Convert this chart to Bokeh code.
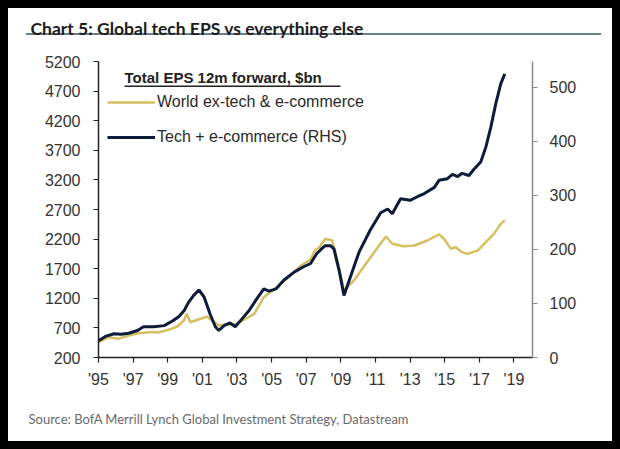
from bokeh.plotting import figure
from bokeh.models import (Range1d, LinearAxis, FixedTicker, Legend, LegendItem,
                          Label, BoxAnnotation, Title)
from bokeh.embed import file_html
from bokeh.resources import INLINE

# ---- data ----
tech_years = [1995.0, 1995.4, 1995.9, 1996.3, 1996.75, 1997.25, 1997.6, 1998.2, 1998.8,
              1999.25, 1999.65, 1999.95, 2000.2, 2000.5, 2000.8, 2001.1, 2001.45, 2001.75,
              2001.95, 2002.25, 2002.6, 2002.9, 2003.3, 2003.7, 2004.15, 2004.55, 2004.85,
              2005.25, 2005.7, 2006.3, 2006.85, 2007.25, 2007.6, 2007.85, 2008.1, 2008.4,
              2008.6, 2008.9, 2009.18, 2009.55, 2010.05, 2010.7, 2011.3, 2011.7, 2011.97,
              2012.45, 2013.0, 2013.5, 2013.8, 2014.4, 2014.67, 2015.15, 2015.45, 2015.75,
              2016.0, 2016.4, 2016.7, 2017.08, 2017.37, 2017.66, 2017.95, 2018.24, 2018.47]
tech_eps = [31, 39, 44, 43, 45, 50, 57, 57, 59,
            67, 76, 87, 102, 115, 125, 112, 80, 57,
            50, 59, 64, 57, 72, 87, 109, 127, 123,
            127, 143, 158, 168, 174, 192, 200, 207, 207,
            201, 161, 115, 149, 195, 236, 268, 275, 266,
            294, 291, 299, 303, 315, 328, 331, 339, 335,
            341, 337, 349, 362, 389, 426, 470, 507, 525]

world_years = [1995.0, 1995.6, 1996.15, 1996.75, 1997.3, 1997.9, 1998.5, 1999.05, 1999.55,
               1999.93, 2000.1, 2000.3, 2000.6, 2000.9, 2001.25, 2001.6, 2001.95, 2002.45,
               2003.0, 2003.5, 2004.0, 2004.55, 2005.3, 2006.3, 2006.7, 2007.25, 2007.5,
               2007.75, 2008.1, 2008.5, 2008.8, 2009.18, 2009.75, 2010.45, 2011.0, 2011.6,
               2011.97, 2012.6, 2013.25, 2014.0, 2014.67, 2014.96, 2015.35, 2015.64, 2016.0,
               2016.3, 2016.9, 2017.37, 2017.85, 2018.24, 2018.47]
world_eps = [458, 543, 516, 572, 611, 628, 628, 668, 724,
             825, 938, 796, 825, 854, 890, 820, 740, 757,
             769, 854, 938, 1219, 1388, 1641, 1754, 1860, 2007,
             2063, 2205, 2176, 1838, 1332, 1500, 1783, 2007, 2244,
             2121, 2080, 2092, 2176, 2280, 2205, 2036, 2063, 1979,
             1951, 2007, 2148, 2290, 2458, 2520]

left_ticks = [200, 700, 1200, 1700, 2200, 2700, 3200, 3700, 4200, 4700, 5200]
right_ticks = [0, 100, 200, 300, 400, 500]
x_ticks = [1995, 1997, 1999, 2001, 2003, 2005, 2007, 2009, 2011, 2013, 2015, 2017, 2019]
x_labels = ["'95", "'97", "'99", "'01", "'03", "'05", "'07", "'09", "'11", "'13", "'15", "'17", "'19"]

title_text = "Chart 5: Global tech EPS vs everything else"
legend_title = "Total EPS 12m forward, $bn"
world_name = "World ex-tech & e-commerce"
tech_name = "Tech + e-commerce (RHS)"
source_text = "Source:  BofA Merrill Lynch Global Investment Strategy, Datastream"

YELLOW = "#d6bf62"
NAVY = "#0e1b3b"
TICK_FONT = "Liberation Sans"
NARROW = "Lato"
RULE = "#6e7f8c"

p = figure(width=604, height=433, output_backend="svg", toolbar_location=None,
           x_range=Range1d(1995, 2020.07), y_range=Range1d(200, 5200),
           min_border_left=90, min_border_right=80, min_border_top=53, min_border_bottom=84,
           styles={"background": "linear-gradient(%s, %s) 18px 25px / 575px 2px no-repeat, #ffffff"
                                 % (RULE, RULE)})
p.extra_y_ranges = {"rhs": Range1d(0, 548)}
p.background_fill_color = "white"
p.border_fill_alpha = 0
p.outline_line_color = None
p.xgrid.visible = False
p.ygrid.visible = False

# chart title: a trailing blank line lifts the text line clear of the frame
p.title.text = title_text + "\n "
p.title.align = "left"
p.title.vertical_align = "bottom"
p.title.offset = -68
p.title.standoff = 4
p.title.text_font = NARROW
p.title.text_font_size = "17.5px"
p.title.text_font_style = "bold"
p.title.text_color = "#1c1c1c"

r_world = p.line(world_years, world_eps, line_color=YELLOW, line_width=2.5)
r_tech = p.line(tech_years, tech_eps, line_color=NAVY, line_width=3, y_range_name="rhs")


def style_axis(ax, color):
    ax.axis_line_color = color
    ax.axis_line_width = 1.5
    ax.major_tick_line_color = color
    ax.major_tick_line_width = 1.2
    ax.major_tick_out = 5
    ax.major_tick_in = 0
    ax.minor_tick_line_color = None
    ax.major_label_text_font = TICK_FONT
    ax.major_label_text_font_size = "16px"
    ax.major_label_text_color = "#333333"


yl = p.yaxis[0]
yl.ticker = FixedTicker(ticks=left_ticks)
style_axis(yl, "#222222")
yl.major_label_standoff = 13

xa = p.xaxis[0]
xa.ticker = FixedTicker(ticks=x_ticks)
xa.major_label_overrides = {t: l for t, l in zip(x_ticks, x_labels)}
style_axis(xa, "#222222")
xa.major_label_standoff = 8

yr = LinearAxis(y_range_name="rhs", ticker=FixedTicker(ticks=right_ticks))
style_axis(yr, "#8a8a8a")
yr.major_label_standoff = 12
p.add_layout(yr, "right")

# source line: a leading blank line pushes the text down below the axis labels
src = Title(text=" \n" + source_text, align="left", vertical_align="top", offset=-70,
            standoff=9, text_font=NARROW, text_font_size="13px", text_font_style="normal",
            text_color="#6a6a6a")
p.add_layout(src, "below")

legend = Legend(items=[LegendItem(label=world_name, renderers=[r_world]),
                       LegendItem(label=tech_name, renderers=[r_tech])],
                location=(9, 210), orientation="vertical",
                border_line_color=None, background_fill_alpha=0,
                padding=0, margin=0, spacing=15, glyph_width=48, glyph_height=20,
                label_standoff=2, label_text_font=TICK_FONT, label_text_font_size="16px",
                label_text_color="#2a2a2a", label_height=20)
p.add_layout(legend, "center")

p.add_layout(Label(x=26, y=280, x_units="screen", y_units="screen", text=legend_title,
                   text_font=TICK_FONT, text_font_size="15px", text_font_style="bold",
                   text_color="#222222", text_baseline="alphabetic"))
p.add_layout(BoxAnnotation(left=26, right=242, bottom=270.5, top=272,
                           left_units="screen", right_units="screen",
                           bottom_units="screen", top_units="screen",
                           fill_color="#222222", fill_alpha=1, line_color=None))

html = file_html(p, INLINE)
html = html.replace("</head>",
                    "<style>html,body{background:#000 !important;}"
                    "body{padding:8px !important;margin:0 !important;}</style></head>", 1)
open("out.html", "w").write(html)
